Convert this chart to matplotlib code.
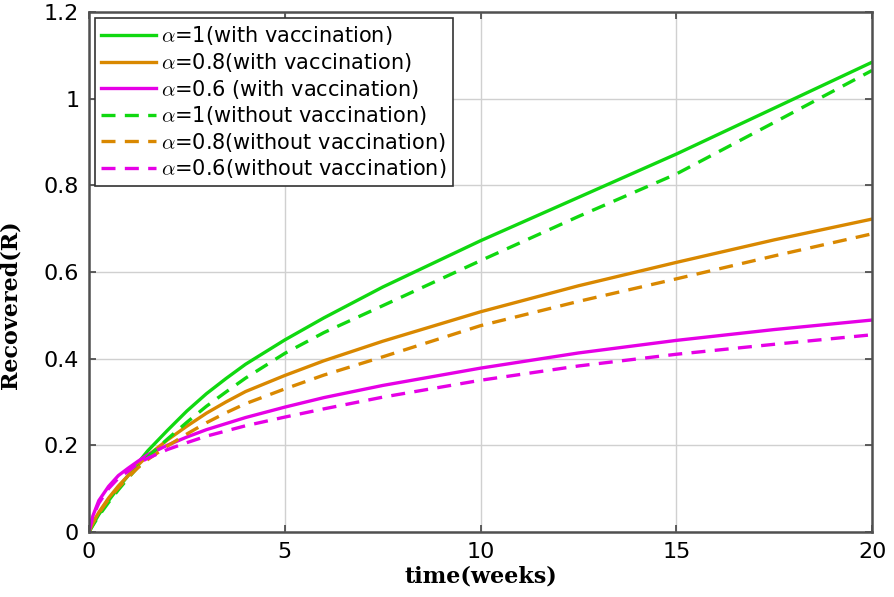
import matplotlib
matplotlib.use("Agg")
import matplotlib.pyplot as plt

t = [0, 0.1, 0.25, 0.5, 0.75, 1, 1.25, 1.5, 2, 2.5, 3, 3.5, 4, 5, 6, 7.5, 10, 12.5, 15, 17.5, 20]

r_a1_vac = [0, 0.017, 0.04, 0.072, 0.102, 0.13, 0.159, 0.187, 0.234, 0.279, 0.319, 0.354, 0.387,
            0.443, 0.494, 0.565, 0.672, 0.772, 0.872, 0.978, 1.084]
r_a08_vac = [0, 0.022, 0.045, 0.078, 0.106, 0.13, 0.154, 0.176, 0.212, 0.244, 0.274, 0.3, 0.324,
             0.361, 0.395, 0.44, 0.508, 0.568, 0.622, 0.674, 0.722]
r_a06_vac = [0, 0.037, 0.072, 0.105, 0.13, 0.147, 0.163, 0.178, 0.2, 0.219, 0.236, 0.25, 0.264,
             0.288, 0.31, 0.338, 0.378, 0.413, 0.442, 0.467, 0.489]
r_a1_novac = [0, 0.015, 0.037, 0.068, 0.097, 0.124, 0.15, 0.173, 0.214, 0.253, 0.29, 0.323, 0.355,
              0.412, 0.46, 0.522, 0.626, 0.728, 0.826, 0.945, 1.065]
r_a08_novac = [0, 0.02, 0.043, 0.075, 0.102, 0.126, 0.148, 0.167, 0.198, 0.226, 0.252, 0.275, 0.296,
               0.33, 0.362, 0.404, 0.476, 0.532, 0.584, 0.637, 0.688]
r_a06_novac = [0, 0.035, 0.066, 0.1, 0.124, 0.14, 0.158, 0.17, 0.19, 0.206, 0.221, 0.233, 0.245,
               0.265, 0.284, 0.311, 0.35, 0.383, 0.41, 0.433, 0.455]

labels = [r"$\alpha$=1(with vaccination)",
          r"$\alpha$=0.8(with vaccination)",
          r"$\alpha$=0.6 (with vaccination)",
          r"$\alpha$=1(without vaccination)",
          r"$\alpha$=0.8(without vaccination)",
          r"$\alpha$=0.6(without vaccination)"]

x_ticks = [0, 5, 10, 15, 20]
y_ticks = [0, 0.2, 0.4, 0.6, 0.8, 1.0, 1.2]
y_tick_labels = ["0", "0.2", "0.4", "0.6", "0.8", "1", "1.2"]

green = "#10d810"
orange = "#d98800"
magenta = "#e600e6"

plt.rcParams["mathtext.fontset"] = "cm"
plt.rcParams["font.family"] = ["DejaVu Sans"]

fig = plt.figure(figsize=(8.95, 5.97), dpi=100)
ax = fig.add_axes([0.0994, 0.109, 0.875, 0.871])

lw = 2.4
dash = (4.2, 2.8)
ax.plot(t, r_a1_vac, color=green, lw=lw, label=labels[0])
ax.plot(t, r_a08_vac, color=orange, lw=lw, label=labels[1])
ax.plot(t, r_a06_vac, color=magenta, lw=lw, label=labels[2])
ax.plot(t, r_a1_novac, color=green, lw=lw, dashes=dash, label=labels[3])
ax.plot(t, r_a08_novac, color=orange, lw=lw, dashes=dash, label=labels[4])
ax.plot(t, r_a06_novac, color=magenta, lw=lw, dashes=dash, label=labels[5])

ax.set_xlim(0, 20)
ax.set_ylim(0, 1.2)
ax.set_xticks(x_ticks)
ax.set_yticks(y_ticks)
ax.set_yticklabels(y_tick_labels)
ax.tick_params(direction="in", top=True, right=True, labelsize=16, length=5, width=1.2,
               color="#444444", pad=7)
ax.grid(True, color="#d0d0d0", lw=1.0)
for s in ax.spines.values():
    s.set_linewidth(1.8)
    s.set_color("#505050")

ax.set_xlabel("time(weeks)", family="DejaVu Serif", fontweight="bold", fontsize=16, labelpad=3)
ax.set_ylabel("Recovered(R)", family="DejaVu Serif", fontweight="bold", fontsize=16)
ax.yaxis.set_label_coords(-0.0856, 0.437)

leg = ax.legend(loc="upper left", fontsize=15, frameon=True, fancybox=False, framealpha=1,
                edgecolor="#333333", handlelength=2.6, handletextpad=0.25, labelspacing=0.17,
                borderpad=0.3, borderaxespad=0.3)
leg.get_frame().set_linewidth(1.2)

fig.savefig("out.png", dpi=100)
